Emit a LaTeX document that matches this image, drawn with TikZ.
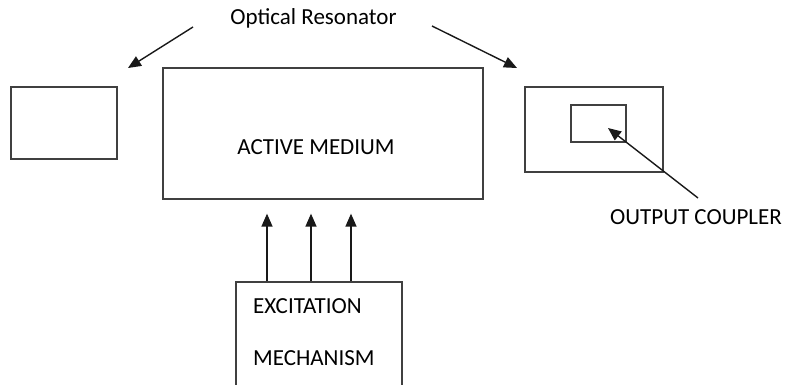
\documentclass[tikz,border=0pt]{standalone}
\usepackage{fontspec}
\setmainfont{Carlito}
\usepackage{tikz}
\usetikzlibrary{arrows.meta,positioning,calc}
\tikzset{
  plainbox/.style={
    rectangle,
    draw=black!75,
    line width=1.3pt,
    inner sep=0pt
  },
  txt/.style={
    inner sep=0pt,
    text=black,
    font=\fontsize{23}{27}\selectfont
  },
  flow/.style={-{Triangle[length=13pt,width=11pt]}, line width=1.4pt, black!90}
}

\begin{document}
\begin{tikzpicture}[x=1pt,y=-1pt]
\useasboundingbox (0,0) rectangle (788,385);
\clip (0,0) rectangle (788,385);
\node[plainbox, minimum width=106pt, minimum height=72pt] (mirror) at (64,123) {};
\node[plainbox, minimum width=320pt, minimum height=131pt] (medium) at (323,133.5) {};
\node[txt] (mediumtext) at (316,147) {ACTIVE MEDIUM};
\node[plainbox, minimum width=138pt, minimum height=85pt] (outmirror) at (594,129.5) {};
\node[plainbox, minimum width=55pt, minimum height=37pt] (window) at (598.5,123.5) {};
\node[plainbox, minimum width=166pt, minimum height=130pt] (excite) at (319,347) {};
\node[txt, anchor=west] (excitetop) at (253,306) {EXCITATION};
\node[txt, anchor=west] (excitebot) at (253,358) {MECHANISM};
\node[txt] (resonator) at (313.5,18) {Optical Resonator};
\node[txt] (coupler) at (696,217) {OUTPUT COUPLER};
% arrow ends
\coordinate (leftstart) at (193,27);
\coordinate (lefttip) at (128,68);
\coordinate (rightstart) at (432,26);
\coordinate (righttip) at (517,68);
\coordinate (couplestart) at (698,198);
\coordinate (coupletip) at ($(window.center)+(9.5,4.5)$);
\draw[flow] (leftstart) -- (lefttip);
\draw[flow] (rightstart) -- (righttip);
\draw[flow] (couplestart) -- (coupletip);
\foreach \x in {267,311,351}
  \draw[flow, shorten >=14pt] (excite.north -| \x,0) -- (medium.south -| \x,0);
\end{tikzpicture}
\end{document}
